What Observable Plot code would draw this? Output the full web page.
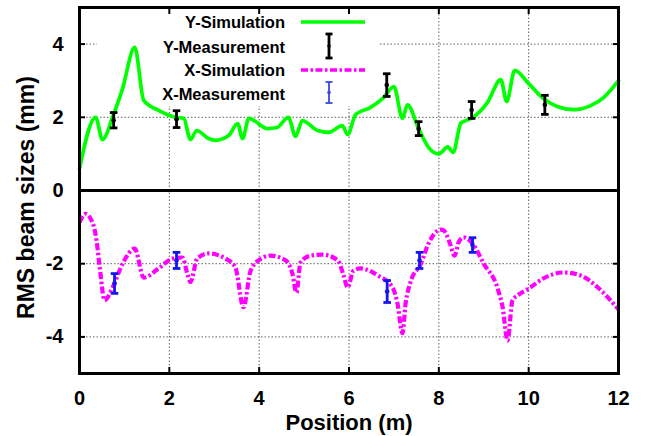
<!DOCTYPE html>
<html>
<head>
<meta charset="utf-8">
<script src="https://cdn.jsdelivr.net/npm/d3@7"></script>
<script src="https://cdn.jsdelivr.net/npm/@observablehq/plot@0.6"></script>
<style>
  html, body { margin: 0; padding: 0; background: white; }
  #chart { width: 647px; height: 436px; }
</style>
</head>
<body>
<div id="chart"></div>
<script>
// ---- Data ----
const ySimPos = [0, 0.36, 0.51, 0.75, 0.95, 1.23, 1.43, 1.76, 2.14, 2.32, 2.47, 2.61, 2.87, 3.03, 3.32, 3.52, 3.63, 3.77, 4.19, 4.4, 4.65, 4.81, 4.96, 5.3, 5.55, 5.85, 5.97, 6.15, 6.48, 6.77, 7.0, 7.19, 7.3, 7.55, 7.77, 8.0, 8.2, 8.32, 8.49, 8.6, 8.75, 9.08, 9.38, 9.51, 9.69, 10.0, 10.33, 10.65, 11.0, 11.38, 11.67, 12.0];
const ySimVal = [0.6, 2.0, 1.39, 2.05, 2.75, 3.91, 2.46, 2.19, 2.0, 1.97, 1.39, 1.64, 1.42, 1.37, 1.5, 1.83, 1.42, 1.97, 1.69, 1.72, 2.0, 1.48, 1.91, 1.64, 1.59, 1.77, 1.53, 2.08, 2.27, 2.54, 2.84, 1.97, 2.34, 1.69, 1.18, 1.0, 1.19, 1.04, 1.84, 1.91, 1.99, 2.4, 3.03, 2.43, 3.28, 2.92, 2.51, 2.29, 2.21, 2.32, 2.54, 3.0];

const xSimPos = [0, 0.13, 0.29, 0.38, 0.45, 0.56, 0.74, 0.96, 1.23, 1.43, 1.76, 2.07, 2.29, 2.4, 2.47, 2.62, 2.87, 3.25, 3.47, 3.65, 3.81, 4.03, 4.25, 4.59, 4.74, 4.83, 4.92, 5.14, 5.41, 5.75, 5.88, 5.97, 6.1, 6.26, 6.64, 6.97, 7.08, 7.19, 7.26, 7.37, 7.6, 7.77, 8.04, 8.11, 8.24, 8.35, 8.44, 8.55, 8.75, 9.0, 9.31, 9.42, 9.53, 9.64, 9.75, 10.0, 10.33, 10.78, 11.16, 11.54, 12.0];
const xSimVal = [-0.87, -0.64, -0.87, -1.37, -2.1, -3.0, -2.64, -2.0, -1.59, -2.38, -2.13, -1.86, -1.83, -2.27, -2.5, -1.86, -1.72, -1.86, -2.1, -3.19, -2.19, -1.87, -1.78, -1.91, -2.27, -2.79, -1.97, -1.78, -1.75, -1.91, -2.32, -2.65, -2.19, -2.13, -2.32, -2.65, -3.09, -3.9, -3.09, -2.5, -2.0, -1.45, -1.07, -1.09, -1.42, -1.78, -1.42, -1.28, -1.45, -2.0, -2.68, -3.19, -4.1, -3.0, -2.87, -2.68, -2.4, -2.24, -2.32, -2.65, -3.25];

const yMeasPos = [0.76, 2.16, 6.84, 7.55, 8.73, 10.36];
const yMeasVal = [1.92, 1.95, 2.88, 1.69, 2.2, 2.34];
const yMeasErr = [0.21, 0.23, 0.31, 0.19, 0.23, 0.26];

const xMeasPos = [0.78, 2.16, 6.85, 7.57, 8.75];
const xMeasVal = [-2.54, -1.91, -2.76, -1.91, -1.49];
const xMeasErr = [0.27, 0.22, 0.30, 0.22, 0.20];

const xTicks = [0, 2, 4, 6, 8, 10, 12];
const yTicks = [-4, -2, 0, 2, 4];
const gridXVals = [2, 4, 6, 8, 10];
const gridYVals = [-4, -2, 2, 4];

const legendLabels = ["Y-Simulation", "Y-Measurement", "X-Simulation", "X-Measurement"];

// ---- Build tables ----
const ySim = ySimPos.map((x, i) => ({x, y: ySimVal[i]}));
const xSim = xSimPos.map((x, i) => ({x, y: xSimVal[i]}));
const yMeas = yMeasPos.map((x, i) => ({x, y: yMeasVal[i], lo: yMeasVal[i] - yMeasErr[i], hi: yMeasVal[i] + yMeasErr[i]}));
const xMeas = xMeasPos.map((x, i) => ({x, y: xMeasVal[i], lo: xMeasVal[i] - xMeasErr[i], hi: xMeasVal[i] + xMeasErr[i]}));

const GREEN = "#00ff00", MAGENTA = "#ff00ff", BLACK = "#000000", BLUE = "#1515ee";
const FONT = "'Liberation Sans', Arial, Helvetica, sans-serif";
const DASH = "7,2.5,2.5,2.5";

// horizontal cap symbol for error bars
const capSymbol = {
  draw(ctx, size) {
    const w = Math.sqrt(size / Math.PI);
    ctx.moveTo(-w, 0);
    ctx.lineTo(w, 0);
  }
};

function errorBars(data, color) {
  return [
    Plot.ruleX(data, {x: "x", y1: "lo", y2: "hi", stroke: color, strokeWidth: 2.8}),
    Plot.dot(data, {x: "x", y: "lo", symbol: capSymbol, r: 3.8, stroke: color, strokeWidth: 2.8, fill: "none"}),
    Plot.dot(data, {x: "x", y: "hi", symbol: capSymbol, r: 3.8, stroke: color, strokeWidth: 2.8, fill: "none"}),
    Plot.dot(data, {x: "x", y: "y", r: 2.3, fill: color, stroke: "none"})
  ];
}

const svg = Plot.plot({
  width: 647,
  height: 436,
  marginLeft: 79,
  marginRight: 29,
  marginTop: 7,
  marginBottom: 63,
  style: {fontFamily: FONT, fontWeight: "bold", background: "white", color: "black"},
  x: {domain: [0, 12]},
  y: {domain: [-5, 5]},
  marks: [
    Plot.gridX(gridXVals, {stroke: "#444", strokeOpacity: 0.85, strokeWidth: 1, strokeDasharray: "1.5,2"}),
    Plot.gridY(gridYVals, {stroke: "#444", strokeOpacity: 0.85, strokeWidth: 1, strokeDasharray: "1.5,2"}),
    Plot.ruleY([0], {stroke: BLACK, strokeWidth: 3}),
    Plot.line(ySim, {x: "x", y: "y", stroke: GREEN, strokeWidth: 3.7, curve: "monotone-x"}),
    Plot.line(xSim, {x: "x", y: "y", stroke: MAGENTA, strokeWidth: 4.2, strokeDasharray: DASH, strokeLinecap: "butt", strokeLinejoin: "round", curve: "monotone-x"}),
    ...errorBars(yMeas, BLACK),
    ...errorBars(xMeas, BLUE),
    Plot.frame({stroke: BLACK, strokeWidth: 3}),
    Plot.axisX(xTicks, {anchor: "bottom", tickSize: -6, tickPadding: 23, strokeWidth: 2, fontSize: 20, fontWeight: "bold", label: null, tickFormat: d => String(d)}),
    Plot.axisX(xTicks, {anchor: "top", tickSize: -6, strokeWidth: 2, label: null, tickFormat: () => ""}),
    Plot.axisY(yTicks, {anchor: "left", tickSize: -6, tickPadding: 22, strokeWidth: 2, fontSize: 20, fontWeight: "bold", label: null, tickFormat: d => String(d)}),
    Plot.axisY(yTicks, {anchor: "right", tickSize: -6, strokeWidth: 2, label: null, tickFormat: () => ""}),
    Plot.text(["Position (m)"], {frameAnchor: "bottom", dy: 49, textAnchor: "middle", lineAnchor: "middle", fontSize: 22, fontWeight: "bold"}),
    Plot.text(["RMS beam sizes (mm)"], {frameAnchor: "left", dx: -53, dy: 7, rotate: -90, textAnchor: "middle", lineAnchor: "middle", fontSize: 23, fontWeight: "bold"})
  ]
});

// ---- Legend (opaque key box above grid, below curves) ----
const g = d3.create("svg:g").attr("class", "key");
g.append("rect").attr("x", 97).attr("y", 9).attr("width", 282).attr("height", 97).attr("fill", "white");
const rowY = [22, 47, 70, 94];
legendLabels.forEach((t, i) => {
  g.append("text")
    .attr("x", 285).attr("y", rowY[i])
    .attr("text-anchor", "end").attr("dominant-baseline", "central")
    .attr("font-family", FONT).attr("font-weight", "bold").attr("font-size", 16.5)
    .attr("fill", "black").text(t);
});
g.append("line").attr("x1", 301).attr("x2", 365).attr("y1", rowY[0]).attr("y2", rowY[0])
  .attr("stroke", GREEN).attr("stroke-width", 3.7);
g.append("line").attr("x1", 301).attr("x2", 365).attr("y1", rowY[2]).attr("y2", rowY[2])
  .attr("stroke", MAGENTA).attr("stroke-width", 3.7).attr("stroke-dasharray", DASH);
function keyBar(cx, y1, y2, color, w) {
  g.append("line").attr("x1", cx).attr("x2", cx).attr("y1", y1).attr("y2", y2).attr("stroke", color).attr("stroke-width", w);
  g.append("line").attr("x1", cx - 3.5).attr("x2", cx + 3.5).attr("y1", y1).attr("y2", y1).attr("stroke", color).attr("stroke-width", w);
  g.append("line").attr("x1", cx - 3.5).attr("x2", cx + 3.5).attr("y1", y2).attr("y2", y2).attr("stroke", color).attr("stroke-width", w);
  g.append("circle").attr("cx", cx).attr("cy", (y1 + y2) / 2).attr("r", 1.8).attr("fill", color);
}
keyBar(329, 34, 58, BLACK, 2.8);
keyBar(329, 82, 103, "#3a48d8", 1.8);

const firstLine = svg.querySelector('[aria-label="line"]');
if (firstLine) svg.insertBefore(g.node(), firstLine); else svg.appendChild(g.node());

document.getElementById("chart").appendChild(svg);
</script>
</body>
</html>
